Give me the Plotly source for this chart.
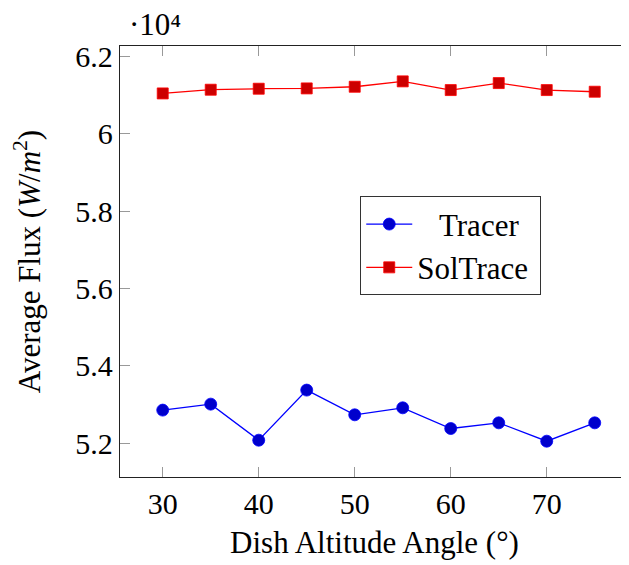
import plotly.graph_objects as go

angles = [30, 35, 40, 45, 50, 55, 60, 65, 70, 75]
tracer_flux = [52856, 53011, 52078, 53374, 52735, 52916, 52380, 52527, 52052, 52527]
soltrace_flux = [61048, 61144, 61170, 61178, 61221, 61360, 61135, 61316, 61135, 61092]

x_ticks = [30, 40, 50, 60, 70]
y_ticks = [52000, 54000, 56000, 58000, 60000, 62000]
y_tick_labels = ["5.2", "5.4", "5.6", "5.8", "6", "6.2"]

FONT = "Liberation Serif"
TICK = 30
TITLE = 31
fig = go.Figure()
fig.add_trace(go.Scatter(
    x=angles, y=tracer_flux, mode="lines+markers", name="\u2002\u2009Tracer",
    line=dict(color="#0000ff", width=1.3),
    marker=dict(symbol="circle", size=12, color="#0000cc", line=dict(color="#0000ff", width=0.8)),
))
fig.add_trace(go.Scatter(
    x=angles, y=soltrace_flux, mode="lines+markers", name="SolTrace\u2009",
    line=dict(color="#ff0000", width=1.3),
    marker=dict(symbol="square", size=11, color="#cc0000", line=dict(color="#ff0000", width=0.8)),
))

yr = [51126, 62275]
# page body has an 8px margin, so the figure is 8px smaller and margins shifted
fig.update_layout(
    width=621, height=557,
    margin=dict(l=112, r=0, t=38, b=88),
    paper_bgcolor="white", plot_bgcolor="white",
    font=dict(family=FONT, size=TICK, color="black"),
    showlegend=True,
    legend=dict(x=0.472, y=0.651, xanchor="left", yanchor="top",
                bordercolor="#333333", borderwidth=1, bgcolor="white",
                font=dict(family=FONT, size=TITLE), itemwidth=46, tracegroupgap=0),
    xaxis=dict(range=[25.55, 78.57], tickvals=x_ticks, ticks="inside", ticklen=10,
               tickcolor="#999999", showline=True, linecolor="#222222", linewidth=1.3,
               mirror="ticks", showgrid=False, zeroline=False, automargin=False,
               tickfont=dict(family=FONT, size=TICK),
               title=dict(text="Dish Altitude Angle (°)", font=dict(family=FONT, size=TITLE), standoff=12)),
    yaxis=dict(range=yr, tickvals=y_ticks, ticktext=y_tick_labels, ticks="inside", ticklen=10,
               tickcolor="#999999", showline=True, linecolor="#222222", linewidth=1.3,
               mirror=False, showgrid=False, zeroline=False, automargin=False,
               tickfont=dict(family=FONT, size=TICK),
               title=dict(text="Average Flux (<i>W</i>/<i>m</i><sup>2</sup>)", font=dict(family=FONT, size=TITLE), standoff=25)),
    yaxis2=dict(range=yr, overlaying="y", side="right", tickvals=y_ticks, ticks="inside", ticklen=10,
                tickcolor="#999999", showticklabels=False, showline=False, showgrid=False,
                zeroline=False, automargin=False),
)
fig.add_annotation(text="·10⁴", xref="paper", yref="paper", x=0.0, y=1.0,
                   xanchor="left", yanchor="bottom", showarrow=False, xshift=8, yshift=3,
                   borderpad=0, font=dict(family=FONT, size=TITLE))
fig.write_html("out.html")
